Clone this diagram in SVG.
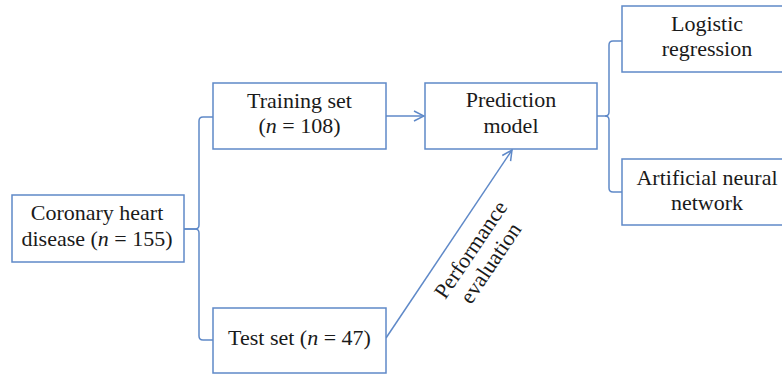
<svg xmlns="http://www.w3.org/2000/svg" width="782" height="377" viewBox="0 0 782 377">
<defs>
<style>
.box{fill:#fff;stroke:#5f89c8;stroke-width:1.5}
.ln{fill:none;stroke:#5f89c8;stroke-width:1.5}
text{font-family:"Liberation Serif","Times New Roman",serif;font-size:22px;fill:#1a1a1a;text-anchor:middle}
</style>
<marker id="ah" viewBox="0 0 12 12" refX="11" refY="6" markerWidth="12" markerHeight="12" markerUnits="userSpaceOnUse" orient="auto">
<path d="M1,1 L11,6 L1,11" fill="none" stroke="#5f89c8" stroke-width="1.5"/>
</marker>
</defs>
<rect width="782" height="377" fill="#fff"/>
<g id="connectors">
<path class="ln" d="M184,229 H195 Q199,229 199,225 V121 Q199,117 203,117 H213"/>
<path class="ln" d="M199,233 V336 Q199,340 203,340 H213"/>
<path class="ln" d="M184,229 H195 Q199,229 199,233"/>
<path class="ln" d="M386,116 H424" marker-end="url(#ah)"/>
<path class="ln" d="M386,338 L512,150" marker-end="url(#ah)"/>
<path class="ln" d="M597,116 H605 Q609,116 609,112 V45 Q609,41 613,41 H622"/>
<path class="ln" d="M609,120 V188 Q609,192 613,192 H622"/>
<path class="ln" d="M605,116 Q609,116 609,120"/>
<text transform="translate(480,256) rotate(-56)"><tspan x="0" y="-4">Performance</tspan><tspan x="0" y="20">evaluation</tspan></text>
</g>
<g id="coronary">
<rect class="box" x="12" y="195" width="172" height="67"/>
<text x="97" y="220">Coronary heart</text>
<text x="97" y="246">disease (<tspan font-style="italic">n</tspan> = 155)</text>
</g>
<g id="training">
<rect class="box" x="213" y="83" width="173" height="66"/>
<text x="299.5" y="108">Training set</text>
<text x="299.5" y="133">(<tspan font-style="italic">n</tspan> = 108)</text>
</g>
<g id="test">
<rect class="box" x="213" y="308" width="173" height="65"/>
<text x="299.5" y="345">Test set (<tspan font-style="italic">n</tspan> = 47)</text>
</g>
<g id="prediction">
<rect class="box" x="425" y="83" width="172" height="66"/>
<text x="511" y="107">Prediction</text>
<text x="511" y="133">model</text>
</g>
<g id="logistic">
<rect class="box" x="622" y="6" width="170" height="66"/>
<text x="707" y="31">Logistic</text>
<text x="707" y="56">regression</text>
</g>
<g id="ann">
<rect class="box" x="622" y="159" width="170" height="66"/>
<text x="707" y="185">Artificial neural</text>
<text x="707" y="210">network</text>
</g>
</svg>
